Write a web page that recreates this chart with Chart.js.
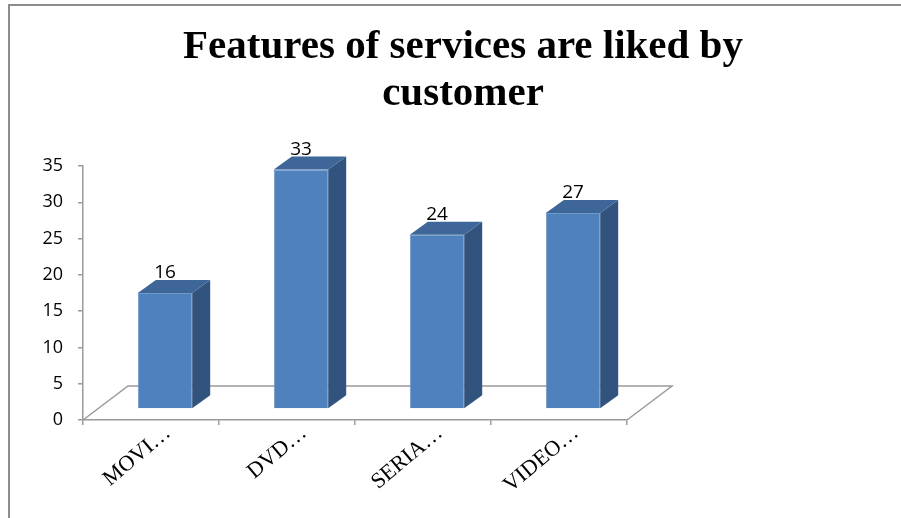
<!DOCTYPE html>
<html>
<head>
<meta charset="utf-8">
<script src="https://cdn.jsdelivr.net/npm/chart.js@4.4.1/dist/chart.umd.min.js"></script>
<style>
  html, body { margin: 0; padding: 0; background: #fff; }
  #wrap { position: relative; width: 901px; height: 518px; overflow: hidden; }
  #frame { position: absolute; left: 8px; top: 4px; right: -2px; bottom: -2px;
           border-left: 2px solid #8c8c8c; border-top: 2px solid #8c8c8c; pointer-events: none; }
  canvas { position: absolute; left: 0; top: 0; }
</style>
</head>
<body>
<div id="wrap">
  <canvas id="myChart" width="901" height="518"></canvas>
  <div id="frame"></div>
</div>
<script>
/* Data */
const titleLines = ['Features of services are liked by', 'customer'];
const categories = ['MOVI\u2026', 'DVD\u2026', 'SERIA\u2026', 'VIDEO\u2026'];
const values = [16, 33, 24, 27];
const yTicks = [0, 5, 10, 15, 20, 25, 30, 35];

/* Colours */
let colorFront = '#4f81bd';
let colorSide = '#33537f';
let colorTop = '#3e6698';
let colorAxis = '#9a9a9a';

/* 3D look: bars stand in the middle of a tilted floor */
const depthX = 18, depthY = 13;
const floorX = 45, floorY = 34;
const shiftX = 14, shiftY = -11;

const bars3d = {
  id: 'bars3d',
  afterLayout(chart) {
    // title is centred on the whole picture, not on the plot
    const t = chart.titleBlock;
    t.left = 25;
    t.right = 901;
    t.width = t.right - t.left;
  },
  beforeDatasetsDraw(chart) {
    const { ctx, chartArea: a } = chart;
    ctx.save();
    ctx.strokeStyle = colorAxis;
    ctx.lineWidth = 1.5;
    ctx.beginPath();
    ctx.moveTo(a.left, a.bottom);
    ctx.lineTo(a.left + floorX, a.bottom - floorY);
    ctx.lineTo(a.right + floorX, a.bottom - floorY);
    ctx.lineTo(a.right, a.bottom);
    ctx.stroke();
    ctx.restore();

    ctx.save();
    ctx.translate(shiftX, shiftY);
  },
  afterDatasetsDraw(chart) {
    const ctx = chart.ctx;
    const meta = chart.getDatasetMeta(0);
    meta.data.forEach((bar, i) => {
      const l = bar.x - bar.width / 2;
      const r = bar.x + bar.width / 2;

      ctx.fillStyle = colorSide;
      ctx.beginPath();
      ctx.moveTo(r, bar.y);
      ctx.lineTo(r + depthX, bar.y - depthY);
      ctx.lineTo(r + depthX, bar.base - depthY);
      ctx.lineTo(r, bar.base);
      ctx.closePath();
      ctx.fill();

      ctx.fillStyle = colorTop;
      ctx.beginPath();
      ctx.moveTo(l, bar.y);
      ctx.lineTo(l + depthX, bar.y - depthY);
      ctx.lineTo(r + depthX, bar.y - depthY);
      ctx.lineTo(r, bar.y);
      ctx.closePath();
      ctx.fill();

      ctx.fillStyle = '#000';
      ctx.font = '19px "Open Sans"';
      ctx.textAlign = 'center';
      ctx.textBaseline = 'middle';
      ctx.fillText(String(values[i]), bar.x, bar.y - depthY - 7);
    });
    ctx.restore();
  }
};

const data = {
  labels: categories,
  datasets: [
    {
      label: 'Customers',
      data: values,
      backgroundColor: colorFront,
      borderColor: '#6f98cb',
      borderWidth: 1,
      barPercentage: 0.4,
      categoryPercentage: 1,
    },
  ],
};

const chartConfig = {
  type: 'bar',
  data,
  plugins: [bars3d],
  options: {
    responsive: false,
    animation: false,
    layout: { padding: { left: 0, right: 274, top: 0, bottom: 0 } },
    plugins: {
      legend: { display: false },
      tooltip: { enabled: false },
      title: {
        display: true,
        text: titleLines,
        color: '#000',
        font: { family: '"Liberation Serif"', size: 41, weight: 'bold', lineHeight: '47px' },
        padding: { top: 24, bottom: 48 },
      },
    },
    scales: {
      x: {
        afterFit(scale) { scale.height = 98; },
        border: { color: colorAxis, width: 1.5 },
        grid: { drawOnChartArea: false, tickLength: 5, color: colorAxis, lineWidth: 1.5 },
        ticks: {
          color: '#000',
          font: { family: '"Liberation Serif"', size: 22 },
          minRotation: 40,
          maxRotation: 40,
          autoSkip: false,
          padding: -5,
          labelOffset: 17,
        },
      },
      y: {
        min: yTicks[0],
        max: yTicks[yTicks.length - 1],
        afterFit(scale) { scale.width = 83; },
        border: { color: colorAxis, width: 1.5 },
        grid: { drawOnChartArea: false, tickLength: 5, color: colorAxis, lineWidth: 1.5 },
        ticks: {
          stepSize: yTicks[1] - yTicks[0],
          color: '#000',
          padding: 15,
          font: { family: '"Open Sans"', size: 18 },
        },
      },
    },
  },
};

const ctx = document.getElementById('myChart').getContext('2d');
const myChart = new Chart(ctx, chartConfig);
</script>
</body>
</html>
